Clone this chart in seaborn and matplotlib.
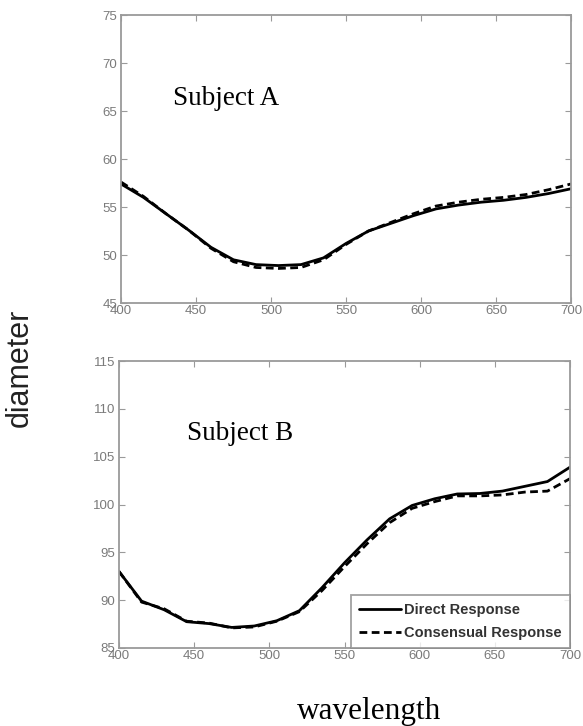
import numpy as np
import pandas as pd
import matplotlib
matplotlib.use("Agg")
import matplotlib.pyplot as plt
import seaborn as sns

# ---- data ----
wavelength = [400, 415, 430, 445, 460, 475, 490, 505, 520, 535, 550,
              565, 580, 595, 610, 625, 640, 655, 670, 685, 700]

a_direct = [57.4, 56.0, 54.3, 52.6, 50.8, 49.5, 49.0, 48.9, 49.0, 49.7, 51.2,
            52.5, 53.3, 54.1, 54.8, 55.2, 55.5, 55.7, 56.0, 56.4, 56.9]
a_consensual = [57.6, 56.1, 54.3, 52.6, 50.7, 49.3, 48.7, 48.6, 48.7, 49.5, 51.1,
                52.5, 53.4, 54.3, 55.1, 55.5, 55.8, 56.0, 56.3, 56.8, 57.4]

b_direct = [93.0, 89.9, 89.0, 87.75, 87.55, 87.15, 87.3, 87.85, 88.9, 91.3, 93.9,
            96.3, 98.5, 99.9, 100.6, 101.1, 101.15, 101.4, 101.9, 102.4, 103.9]
b_consensual = [93.0, 89.8, 89.1, 87.8, 87.6, 87.1, 87.2, 87.8, 88.8, 91.0, 93.5,
                95.9, 98.1, 99.6, 100.3, 100.9, 100.9, 101.0, 101.3, 101.4, 102.7]

series_names = ["Direct Response", "Consensual Response"]
subject_names = ["Subject A", "Subject B"]
a_yticks = [45, 50, 55, 60, 65, 70, 75]
b_yticks = [85, 90, 95, 100, 105, 110, 115]
xticks = [400, 450, 500, 550, 600, 650, 700]

sns.set_style("white")
plt.rcParams["font.family"] = ["Liberation Sans Narrow", "Liberation Sans", "DejaVu Sans"]

fig = plt.figure(figsize=(5.83, 7.26), dpi=100)
ax_a = fig.add_axes([121 / 583, 1 - 303 / 726, (571 - 121) / 583, (303 - 15) / 726])
ax_b = fig.add_axes([119 / 583, 1 - 648 / 726, (570 - 119) / 583, (648 - 361) / 726])

frame_col = "#9a9a9a"
tick_col = "#7a7a7a"

def make_df(direct, consensual):
    return pd.DataFrame({
        "wavelength": wavelength * 2,
        "diameter": list(direct) + list(consensual),
        "series": [series_names[0]] * len(wavelength) + [series_names[1]] * len(wavelength),
    })

for ax, d, c, yt, name, txy in [
    (ax_a, a_direct, a_consensual, a_yticks, subject_names[0], (435, 65.6)),
    (ax_b, b_direct, b_consensual, b_yticks, subject_names[1], (445, 106.75)),
]:
    df = make_df(d, c)
    sns.lineplot(data=df, x="wavelength", y="diameter", style="series",
                 style_order=series_names,
                 dashes={series_names[0]: "", series_names[1]: (2.8, 1.6)},
                 color="black", linewidth=2.0, ax=ax, legend=(ax is ax_b))
    ax.set_xlim(400, 700)
    ax.set_ylim(yt[0], yt[-1])
    ax.set_xticks(xticks)
    ax.set_yticks(yt)
    ax.set_xlabel("")
    ax.set_ylabel("")
    for s in ax.spines.values():
        s.set_color(frame_col)
        s.set_linewidth(1.3)
    ax.tick_params(direction="in", length=4, width=0.8, color=frame_col,
                   labelcolor=tick_col, labelsize=9.5, pad=2.5,
                   top=True, right=True, bottom=True, left=True)
    ax.tick_params(axis="x", pad=1.5)
    ax.text(txy[0], txy[1], name, family=["Liberation Serif", "DejaVu Serif"],
            fontsize=19.5, va="baseline", ha="left", color="black")

leg = ax_b.legend(loc="lower right", borderaxespad=0, frameon=True, fancybox=False,
                  handlelength=2.9, handletextpad=0.2, borderpad=0.55,
                  labelspacing=0.6,
                  prop={"size": 10.5, "weight": "bold",
                        "family": ["Liberation Sans", "DejaVu Sans"]})
leg.get_frame().set_edgecolor("#8a8a8a")
leg.get_frame().set_linewidth(1.3)
for t in leg.get_texts():
    t.set_color("#333333")

fig.text(20 / 583, 1 - 368 / 726, "diameter", rotation=90, ha="center", va="center",
         fontsize=22, color="#222222", family=["Liberation Sans", "DejaVu Sans"])
fig.text(369 / 583, 1 - 712 / 726, "wavelength", ha="center", va="center",
         fontsize=22.5, color="black", family=["Liberation Serif", "DejaVu Serif"])

fig.savefig("out.png", dpi=100)
